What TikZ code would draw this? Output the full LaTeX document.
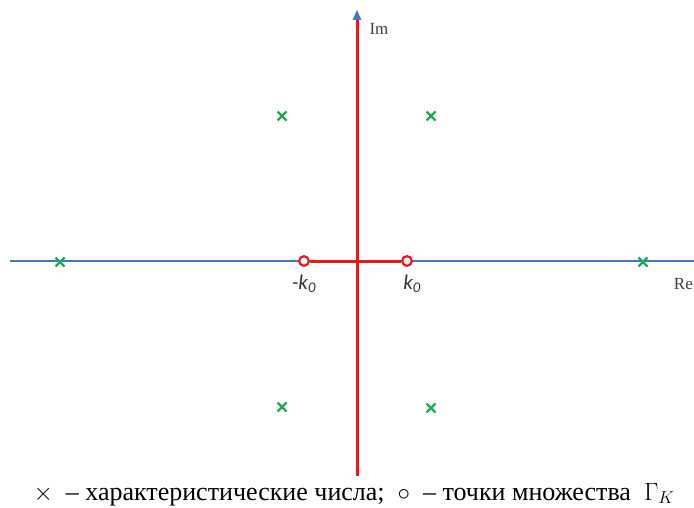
\documentclass[tikz,border=0pt]{standalone}
\usepackage{fontspec}
\setmainfont{Liberation Serif}
\newfontfamily\calib{Carlito}
\usetikzlibrary{arrows.meta,calc}
\definecolor{axblue}{RGB}{70,120,190}
\definecolor{xgreen}{RGB}{30,170,85}
\definecolor{pred}{RGB}{240,20,20}
\tikzset{
  cross/.style={xgreen,line width=2.2pt},
  hole/.style={circle,draw=pred,fill=white,line width=2pt,inner sep=0pt,minimum size=9.5pt},
  axlabel/.style={font=\fontsize{17}{19}\selectfont,text=black!75,inner sep=0pt},
  klabel/.style={font=\calib\itshape\fontsize{21}{22}\selectfont,text=black!80,inner sep=0pt},
}
\newcommand{\xmark}[1]{\draw[cross] ($(#1)+(-4.5,-4.5)$) -- ($(#1)+(4.5,4.5)$) ($(#1)+(-4.5,4.5)$) -- ($(#1)+(4.5,-4.5)$);}
\begin{document}
\begin{tikzpicture}[x=1pt,y=-1pt]
\useasboundingbox (0,0) rectangle (694,508);
% axes
\coordinate (rl) at (10,261);
\coordinate (rr) at (694,261);
\coordinate (ib) at (357,476);
\coordinate (it) at (357,10);
\draw[axblue,line width=1.3pt] (rl) -- (rr);
\draw[pred,line width=3pt] (ib) -- (357,20);
\fill[axblue] (it) -- (352.5,20) -- (361.5,20) -- cycle;
\node[hole] (kl) at (304,261) {};
\node[hole] (kr) at (407,261) {};
\draw[pred,line width=3pt] (kl) -- (kr);
\node[hole] at (304,261) {};
\node[hole] at (407,261) {};
% labels
\node[axlabel] (im) at (379,29) {Im};
\node[axlabel,anchor=east] (re) at (693,284) {Re};
\node[klabel] (lk1) at (304,284) {-k\textsubscript{0}};
\node[klabel] (lk2) at (412,284) {k\textsubscript{0}};
% crosses
\coordinate (c1) at (282,116);
\coordinate (c2) at (431,116);
\coordinate (c3) at (60,262);
\coordinate (c4) at (643,262);
\coordinate (c5) at (282,407);
\coordinate (c6) at (431,408);
\foreach \c in {c1,c2,c3,c4,c5,c6} {\xmark{\c}}
% caption
\node[font=\fontsize{26}{30}\selectfont,anchor=base,inner sep=0pt] (cap) at (354,500) {$\times$\ \ – характеристические числа;\ \ $\circ$\ \ – точки множества\ \ $\Gamma_{K}$};
\end{tikzpicture}
\end{document}
